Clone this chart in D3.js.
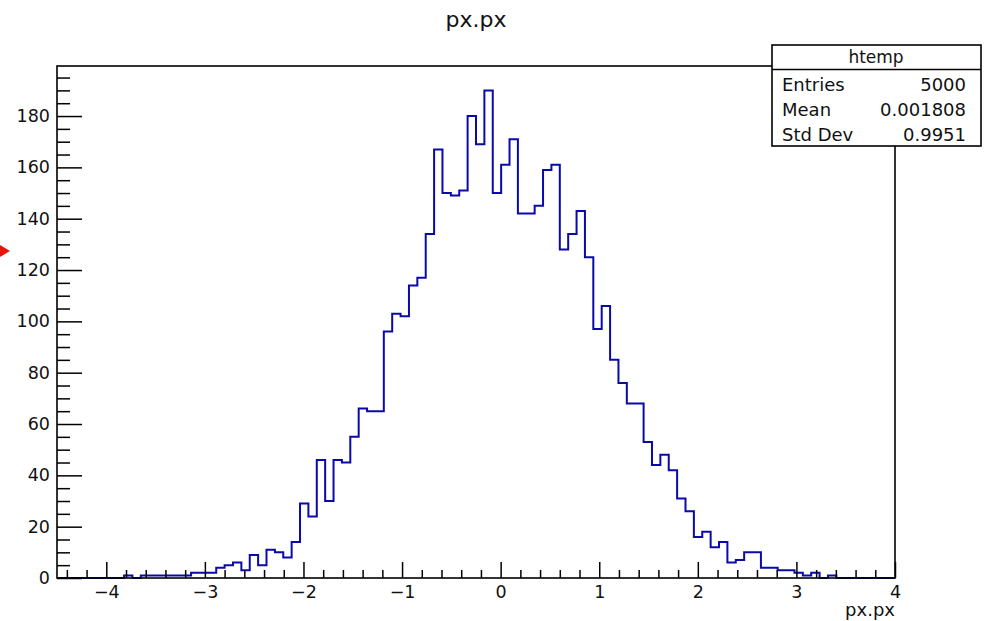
<!DOCTYPE html>
<html>
<head>
<meta charset="utf-8">
<script src="https://cdn.jsdelivr.net/npm/d3@7"></script>
<style>
  body { margin: 0; background: #fff; }
  svg { display: block; font-family: "DejaVu Sans", sans-serif; }
</style>
</head>
<body>
<svg id="chart" width="986" height="621"></svg>
<script>
var histTitle = "px.px";
var xAxisTitle = "px.px";

// histogram binning (100 bins between xMin and xMax)
var xMin = -4.5;
var xMax = 4.0;
var nBins = 100;
var yMax = 199.5;

// bin contents
var counts = [
  0, 0, 0, 0, 0, 0, 0, 0, 1, 0,
  1, 1, 1, 1, 1, 1, 2, 2, 2, 4,
  5, 6, 3, 9, 5, 11, 10, 8, 14, 29,
  24, 46, 30, 46, 45, 55, 66, 65, 65, 96,
  103, 102, 114, 117, 134, 167, 150, 149, 151, 180,
  169, 190, 150, 161, 171, 142, 142, 145, 159, 161,
  128, 134, 143, 125, 97, 106, 85, 76, 68, 68,
  53, 44, 48, 42, 31, 26, 16, 18, 12, 14,
  6, 7, 10, 10, 4, 4, 3, 3, 2, 1,
  2, 0, 1, 0, 0, 0, 0, 0, 0, 0
];

var statsTitle = "htemp";
var statNames = ["Entries", "Mean", "Std Dev"];
var statValues = ["5000", "0.001808", "0.9951"];

var xMajorTicks = [-4, -3, -2, -1, 0, 1, 2, 3, 4];
var yMajorTicks = [0, 20, 40, 60, 80, 100, 120, 140, 160, 180];

var frame = { left: 57, top: 66, right: 895, bottom: 578 };

const svg = d3.select("#chart");

const xScale = d3.scaleLinear().domain([xMin, xMax]).range([frame.left, frame.right]);
const yScale = d3.scaleLinear().domain([0, yMax]).range([frame.bottom, frame.top]);

// minor ticks: 0.2 on x, 5 on y
var xMinorTicks = d3.range(-4.4, 4.0, 0.2).filter((d) => Math.abs(d - Math.round(d)) > 0.01);
var yMinorTicks = d3.range(5, yMax, 5).filter((d) => d % 20 !== 0);

// histogram outline as a step line
var binWidth = (xMax - xMin) / nBins;
var steps = counts.map((c, i) => [xMin + i * binWidth, c]);
steps.push([xMax, counts[nBins - 1]]);

svg
  .append("path")
  .datum(steps)
  .attr("fill", "none")
  .attr("stroke", "#0a0aa8")
  .attr("stroke-width", 2)
  .attr(
    "d",
    d3
      .line()
      .x((d) => xScale(d[0]))
      .y((d) => yScale(d[1]))
      .curve(d3.curveStepAfter)
  );

// x axis, ticks pointing into the frame
const xAxis = svg
  .append("g")
  .attr("transform", `translate(0,${frame.bottom})`)
  .call(
    d3
      .axisBottom(xScale)
      .tickValues(xMajorTicks)
      .tickSize(-16)
      .tickPadding(8)
      .tickFormat(d3.format("d"))
  );

svg
  .append("g")
  .attr("transform", `translate(0,${frame.bottom})`)
  .call(d3.axisBottom(xScale).tickValues(xMinorTicks).tickSize(-8).tickFormat(""));

// y axis
const yAxis = svg
  .append("g")
  .attr("transform", `translate(${frame.left},0)`)
  .call(
    d3
      .axisLeft(yScale)
      .tickValues(yMajorTicks)
      .tickSize(-25)
      .tickPadding(7)
      .tickFormat(d3.format("d"))
  );

svg
  .append("g")
  .attr("transform", `translate(${frame.left},0)`)
  .call(d3.axisLeft(yScale).tickValues(yMinorTicks).tickSize(-13).tickFormat(""));

svg.selectAll(".domain").remove();
svg.selectAll(".tick line").attr("stroke", "#000").attr("stroke-width", 1.5);
svg
  .selectAll(".tick text")
  .attr("fill", "#111")
  .style("font-family", "DejaVu Sans, sans-serif")
  .style("font-size", "17.5px");

// frame
svg
  .append("rect")
  .attr("x", frame.left)
  .attr("y", frame.top)
  .attr("width", frame.right - frame.left)
  .attr("height", frame.bottom - frame.top)
  .attr("fill", "none")
  .attr("stroke", "#000")
  .attr("stroke-width", 1.6);

// titles
svg
  .append("text")
  .attr("x", 476)
  .attr("y", 27)
  .style("text-anchor", "middle")
  .style("font-size", "22px")
  .attr("fill", "#111")
  .text(histTitle);

svg
  .append("text")
  .attr("x", frame.right)
  .attr("y", 616)
  .style("text-anchor", "end")
  .style("font-size", "18px")
  .attr("fill", "#111")
  .text(xAxisTitle);

// stats box
const stats = svg.append("g");

stats
  .append("rect")
  .attr("x", 772)
  .attr("y", 45)
  .attr("width", 209)
  .attr("height", 101)
  .attr("fill", "#fff")
  .attr("stroke", "#000")
  .attr("stroke-width", 1.6);

stats
  .append("line")
  .attr("x1", 772)
  .attr("x2", 981)
  .attr("y1", 69.5)
  .attr("y2", 69.5)
  .attr("stroke", "#000")
  .attr("stroke-width", 1.6);

stats
  .append("text")
  .attr("x", 876)
  .attr("y", 63)
  .style("text-anchor", "middle")
  .style("font-size", "17px")
  .attr("fill", "#111")
  .text(statsTitle);

stats
  .selectAll(".stat-name")
  .data(statNames)
  .enter()
  .append("text")
  .attr("class", "stat-name")
  .attr("x", 782)
  .attr("y", (d, i) => 91 + i * 25)
  .style("font-size", "18px")
  .attr("fill", "#111")
  .text((d) => d);

stats
  .selectAll(".stat-value")
  .data(statValues)
  .enter()
  .append("text")
  .attr("class", "stat-value")
  .attr("x", 966)
  .attr("y", (d, i) => 91 + i * 25)
  .style("text-anchor", "end")
  .style("font-size", "18px")
  .attr("fill", "#111")
  .text((d) => d);

// red marker at the left edge
svg
  .append("path")
  .attr("d", "M0,245L10,251L0,257Z")
  .attr("fill", "#e8140c");
</script>
</body>
</html>
